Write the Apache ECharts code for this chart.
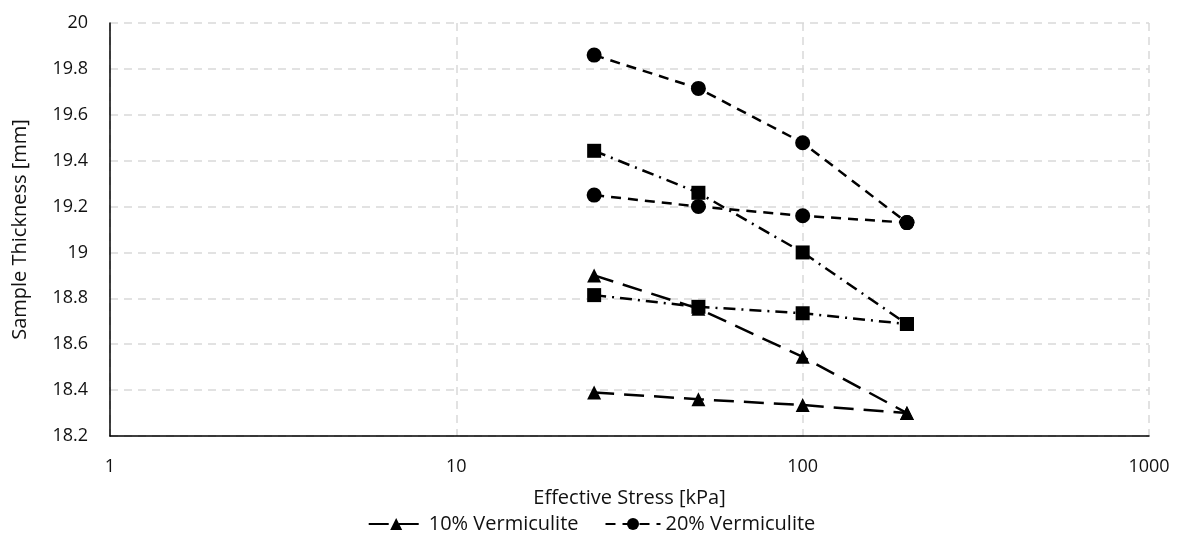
<!DOCTYPE html>
<html>
<head>
<meta charset="utf-8">
<script src="https://cdn.jsdelivr.net/npm/echarts@6/dist/echarts.min.js"></script>
<style>
  html, body { margin: 0; padding: 0; background: #fff; }
  #chart { width: 1183px; height: 543px; }
</style>
</head>
<body>
<div id="chart"></div>
<script>
// effective stress steps [kPa]
const stress = [25, 50, 100, 200]

// sample thickness [mm]
const tri10A = [18.90, 18.755, 18.545, 18.30]
const tri10B = [18.39, 18.36, 18.335, 18.30]
const circ20A = [19.86, 19.715, 19.478, 19.13]
const circ20B = [19.25, 19.20, 19.16, 19.13]
const sqA = [19.443, 19.26, 19.0, 18.688]
const sqB = [18.814, 18.763, 18.735, 18.688]

const yTicks = { min: 18.2, max: 20, step: 0.2 }

const pairs = (ys) => stress.map((x, i) => [x, ys[i]])

const fontFam = '"Open Sans", sans-serif'

function mkSeries (name, ys, symbol, size, dash) {
  return {
    name: name,
    type: 'line',
    data: pairs(ys),
    symbol: symbol,
    symbolSize: size,
    itemStyle: { color: '#000' },
    lineStyle: { color: '#000', width: 2.5, type: dash },
    z: 3
  }
}

const chart = echarts.init(document.getElementById('chart'))

const options = {
  animation: false,
  textStyle: { fontFamily: fontFam },
  grid: { left: 110, right: 34, top: 23, bottom: 107, outerBoundsMode: 'none', containLabel: false },
  legend: {
    data: ['10% Vermiculite', '20% Vermiculite'],
    top: 509,
    left: 'center',
    itemWidth: 55,
    itemHeight: 15,
    itemGap: 26,
    textStyle: { fontSize: 20, color: '#111', fontFamily: fontFam }
  },
  xAxis: {
    type: 'log',
    logBase: 10,
    min: 1,
    max: 1000,
    name: 'Effective Stress [kPa]',
    nameLocation: 'middle',
    nameGap: 52,
    nameTextStyle: { fontSize: 20, color: '#111' },
    axisLine: { lineStyle: { color: '#000', width: 1.5 } },
    axisTick: { show: false },
    axisLabel: {
      fontSize: 18, color: '#111', margin: 22,
      formatter: (v) => String(Math.round(v))
    },
    splitLine: { show: true, lineStyle: { color: '#d9d9d9', type: [8, 6], width: 1.5 } }
  },
  yAxis: {
    type: 'value',
    min: yTicks.min,
    max: yTicks.max,
    interval: yTicks.step,
    name: 'Sample Thickness [mm]',
    nameLocation: 'middle',
    nameGap: 80,
    nameTextStyle: { fontSize: 20, color: '#111' },
    axisLine: { show: true, lineStyle: { color: '#000', width: 1.5 } },
    axisTick: { show: false },
    axisLabel: {
      fontSize: 18, color: '#111', margin: 22,
      formatter: (v) => String(+v.toFixed(1))
    },
    splitLine: { show: true, lineStyle: { color: '#d9d9d9', type: [8, 6], width: 1.5 } }
  },
  series: [
    mkSeries('10% Vermiculite', tri10A, 'triangle', 14, [20, 10]),
    mkSeries('10% Vermiculite', tri10B, 'triangle', 14, [20, 10]),
    mkSeries('20% Vermiculite', circ20A, 'circle', 15, [10, 7]),
    mkSeries('20% Vermiculite', circ20B, 'circle', 15, [10, 7]),
    mkSeries('sq-a', sqA, 'rect', 14, [12, 6, 2, 6]),
    mkSeries('sq-b', sqB, 'rect', 14, [12, 6, 2, 6])
  ]
}

chart.setOption(options)
</script>
</body>
</html>
